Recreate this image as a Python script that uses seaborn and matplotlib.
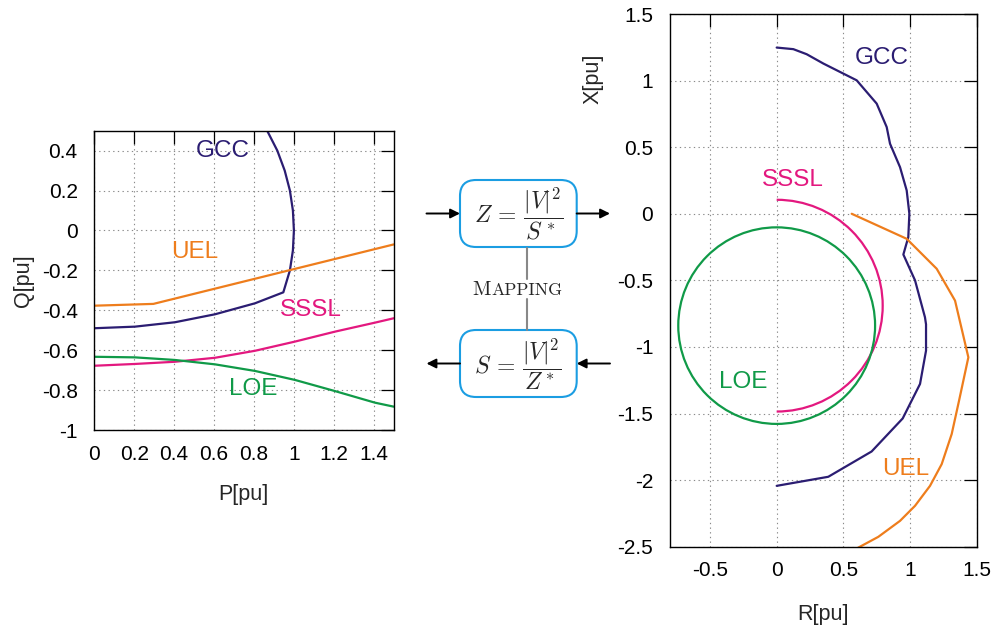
import matplotlib
matplotlib.use("Agg")
import matplotlib.pyplot as plt
import numpy as np
import pandas as pd
import seaborn as sns
from matplotlib.patches import Circle, Arc, FancyBboxPatch

# ---------------- data: P-Q plane (left) ----------------
pq_gcc_p = [0.866, 0.917, 0.954, 0.980, 0.995, 1.000, 0.995, 0.980, 0.947,
            0.805, 0.605, 0.404, 0.204, 0.000]
pq_gcc_q = [0.50, 0.40, 0.30, 0.20, 0.10, 0.00, -0.10, -0.20, -0.31,
            -0.365, -0.42, -0.46, -0.482, -0.49]

pq_uel_p = [0.0, 0.296, 1.5]
pq_uel_q = [-0.377, -0.368, -0.07]

pq_sssl_p = [0.0, 0.204, 0.404, 0.605, 0.805, 1.005, 1.206, 1.406, 1.5]
pq_sssl_q = [-0.678, -0.669, -0.658, -0.638, -0.603, -0.557, -0.507, -0.462, -0.44]

pq_loe_p = [0.0, 0.204, 0.404, 0.605, 0.805, 1.005, 1.206, 1.406, 1.5]
pq_loe_q = [-0.633, -0.636, -0.649, -0.671, -0.704, -0.749, -0.805, -0.863, -0.883]

pq_xticks = [0, 0.2, 0.4, 0.6, 0.8, 1.0, 1.2, 1.4]
pq_xticklabels = ["0", "0.2", "0.4", "0.6", "0.8", "1", "1.2", "1.4"]
pq_yticks = [-1.0, -0.8, -0.6, -0.4, -0.2, 0.0, 0.2, 0.4]
pq_yticklabels = ["-1", "-0.8", "-0.6", "-0.4", "-0.2", "0", "0.2", "0.4"]

# ---------------- data: R-X plane (right) ----------------
rx_gcc_r = [0.0, 0.125, 0.225, 0.35, 0.475, 0.6, 0.75, 0.825, 0.85, 0.925, 0.975, 0.995,
            0.987, 0.95, 1.0375, 1.112, 1.12, 1.12, 1.075, 0.945, 0.712, 0.387, 0.0]
rx_gcc_x = [1.248, 1.236, 1.198, 1.128, 1.065, 1.002, 0.827, 0.651, 0.526, 0.35, 0.175, 0.0,
            -0.176, -0.306, -0.5, -0.777, -0.83, -1.028, -1.278, -1.537, -1.785, -1.975, -2.043]

rx_uel_r = [0.5625, 0.975, 1.2, 1.3375, 1.4375, 1.3675, 1.3125, 1.2375, 1.15,
            1.0375, 0.925, 0.762, 0.612]
rx_uel_x = [0.0, -0.188, -0.413, -0.652, -1.078, -1.404, -1.654, -1.88, -2.043,
            -2.193, -2.306, -2.426, -2.507]

# circular boundaries: centre (R, X) and radius
rx_sssl_center = [0.0, -0.69]
rx_sssl_radius = 0.795
rx_loe_center = [0.0, -0.84]
rx_loe_radius = 0.738

rx_xticks = [-0.5, 0.0, 0.5, 1.0, 1.5]
rx_xticklabels = ["-0.5", "0", "0.5", "1", "1.5"]
rx_yticks = [-2.5, -2.0, -1.5, -1.0, -0.5, 0.0, 0.5, 1.0, 1.5]
rx_yticklabels = ["-2.5", "-2", "-1.5", "-1", "-0.5", "0", "0.5", "1", "1.5"]

# curve labels: (text, x, y)
pq_labels = [("GCC", 0.642, 0.40), ("UEL", 0.504, -0.11),
             ("SSSL", 1.083, -0.40), ("LOE", 0.794, -0.795)]
rx_labels = [("GCC", 0.785, 1.17), ("SSSL", 0.121, 0.25),
             ("LOE", -0.25, -1.266), ("UEL", 0.966, -1.915)]

colors = {"GCC": "#2b1d72", "UEL": "#ee7d1c", "SSSL": "#e3187f", "LOE": "#109a48"}
box_color = "#1b9de2"

# ---------------- style ----------------
sns.set_theme(style="white")
plt.rcParams["font.family"] = ["Liberation Sans", "DejaVu Sans"]
plt.rcParams["mathtext.fontset"] = "cm"
plt.rcParams["axes.unicode_minus"] = False

W, H = 993, 626
fig = plt.figure(figsize=(W / 100, H / 100), dpi=100)
fig.patch.set_facecolor("white")

TICK_FS = 15
LABEL_FS = 15.5
CURVE_FS = 17.5


def px_axes(left, top, right, bottom):
    return fig.add_axes([left / W, 1 - bottom / H, (right - left) / W, (bottom - top) / H])


def style_axes(ax, xpad, ypad):
    for s in ax.spines.values():
        s.set_visible(True)
        s.set_color("black")
        s.set_linewidth(1.0)
    ax.tick_params(direction="in", length=9.5, width=0.9, top=True, right=True,
                   labelsize=TICK_FS, colors="black")
    ax.tick_params(axis="x", pad=xpad)
    ax.tick_params(axis="y", pad=ypad)
    ax.grid(True, linestyle=(0, (1.2, 3)), color="#8a8a8a", linewidth=0.8)
    ax.set_axisbelow(True)


def line(ax, xs, ys, name):
    df = pd.DataFrame({"x": xs, "y": ys})
    sns.lineplot(data=df, x="x", y="y", ax=ax, sort=False, estimator=None,
                 color=colors[name], linewidth=1.6)


# ---------------- left: P-Q plane ----------------
L1, T1, R1, B1 = 94.3, 130.7, 393.7, 430.0
ax1 = px_axes(L1, T1, R1, B1)
line(ax1, pq_gcc_p, pq_gcc_q, "GCC")
line(ax1, pq_uel_p, pq_uel_q, "UEL")
line(ax1, pq_sssl_p, pq_sssl_q, "SSSL")
line(ax1, pq_loe_p, pq_loe_q, "LOE")
ax1.set_xlim(0, 1.5)
ax1.set_ylim(-1, 0.5)
ax1.set_xticks(pq_xticks)
ax1.set_xticklabels(pq_xticklabels)
ax1.set_yticks(pq_yticks)
ax1.set_yticklabels(pq_yticklabels)
style_axes(ax1, xpad=11, ypad=12)
ax1.set_xlabel("P[pu]", fontsize=LABEL_FS)
ax1.set_ylabel("Q[pu]", fontsize=LABEL_FS)
ax1.xaxis.set_label_coords((243 - L1) / (R1 - L1), -(484 - B1) / (B1 - T1))
ax1.yaxis.set_label_coords(-(L1 - 34) / (R1 - L1), 0.5)
for t, x, y in pq_labels:
    ax1.text(x, y, t, color=colors[t], fontsize=CURVE_FS, ha="center", va="center")

# ---------------- right: R-X plane ----------------
L2, T2, R2, B2 = 670.0, 14.0, 976.7, 546.7
ax2 = px_axes(L2, T2, R2, B2)
line(ax2, rx_gcc_r, rx_gcc_x, "GCC")
line(ax2, rx_uel_r, rx_uel_x, "UEL")
ax2.add_patch(Arc(rx_sssl_center, 2 * rx_sssl_radius, 2 * rx_sssl_radius,
                  theta1=-90, theta2=90, color=colors["SSSL"], linewidth=1.6))
ax2.add_patch(Circle(rx_loe_center, rx_loe_radius, fill=False,
                     edgecolor=colors["LOE"], linewidth=1.6))
ax2.set_xlim(-0.8, 1.5)
ax2.set_ylim(-2.5, 1.5)
ax2.set_xticks(rx_xticks)
ax2.set_xticklabels(rx_xticklabels)
ax2.set_yticks(rx_yticks)
ax2.set_yticklabels(rx_yticklabels)
style_axes(ax2, xpad=10, ypad=12)
ax2.set_xlabel("R[pu]", fontsize=LABEL_FS)
ax2.set_ylabel("X[pu]", fontsize=LABEL_FS)
ax2.xaxis.set_label_coords(0.5, -(604 - B2) / (B2 - T2))
ax2.yaxis.set_label_coords(-(L2 - 604) / (R2 - L2), (B2 - 79) / (B2 - T2))
for t, x, y in rx_labels:
    ax2.text(x, y, t, color=colors[t], fontsize=CURVE_FS, ha="center", va="center")

# ---------------- middle: mapping diagram (pixel coordinates) ----------------
ov = fig.add_axes([0, 0, 1, 1])
ov.set_xlim(0, W)
ov.set_ylim(H, 0)
ov.axis("off")
ov.patch.set_alpha(0)

for top in (180.0, 330.0):
    ov.add_patch(FancyBboxPatch((460, top), 116.7, 67.0,
                                boxstyle="round,pad=0,rounding_size=16",
                                facecolor="white", edgecolor=box_color, linewidth=1.5))

ov.text(518.3, 214, r"$Z\,=\,\dfrac{|V|^2}{S^*}$", fontsize=17, ha="center", va="center")
ov.text(518.3, 364, r"$S\,=\,\dfrac{|V|^2}{Z^*}$", fontsize=17, ha="center", va="center")

# connector between the two boxes, broken around the caption
ov.plot([526.7, 526.7], [247.5, 279], color="#888888", lw=1.5)
ov.plot([526.7, 526.7], [299, 330], color="#888888", lw=1.5)
ov.text(491, 295, "M", fontfamily="cmr10", fontsize=14.5, ha="right", va="baseline")
ov.text(491.5, 295, "APPING", fontfamily="cmr10", fontsize=12.8, ha="left", va="baseline")

arrow_kw = dict(arrowstyle="-|>", color="black", lw=1.4, mutation_scale=14,
                shrinkA=0, shrinkB=0)
ov.annotate("", xy=(460, 213.5), xytext=(426.5, 213.5), arrowprops=arrow_kw)
ov.annotate("", xy=(610, 213.5), xytext=(576.7, 213.5), arrowprops=arrow_kw)
ov.annotate("", xy=(426.5, 363.5), xytext=(460, 363.5), arrowprops=arrow_kw)
ov.annotate("", xy=(576.7, 363.5), xytext=(610, 363.5), arrowprops=arrow_kw)

fig.savefig("out.png", dpi=100, facecolor="white")
